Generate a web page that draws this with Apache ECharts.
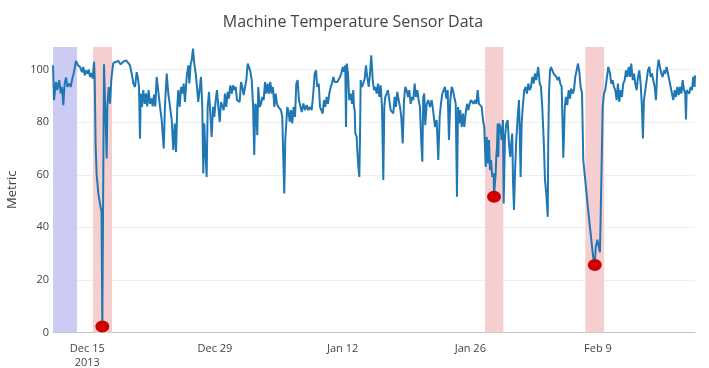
<!DOCTYPE html>
<html>
<head>
<meta charset="utf-8">
<script src="https://cdn.jsdelivr.net/npm/echarts@6/dist/echarts.min.js"></script>
<style>
html,body{margin:0;padding:0;background:#fff;}
#chart{width:709px;height:368px;}
</style>
</head>
<body>
<div id="chart"></div>
<script>
// ---------- DATA ----------
var baseDate = '2013-12-11 00:00';            // reference time for dayOffsets
// time of each reading, in days after baseDate
var dayOffsets = [
0.24,0.35,0.57,0.71,0.93,1.09,1.23,1.37,1.52,1.67,1.81,2.03,2.18,2.32,2.54,2.76,2.98,3.20,3.42,3.56,
3.72,3.86,4.00,4.16,4.30,4.44,4.59,4.74,4.81,4.92,5.03,5.21,5.39,5.56,5.65,5.83,6.13,6.20,6.35,6.49,
6.63,6.79,6.85,7.04,7.40,7.66,7.95,8.25,8.50,8.68,8.87,9.05,9.23,9.42,9.53,9.67,9.78,9.86,10.00,10.14,
10.30,10.44,10.58,10.73,10.88,11.02,11.17,11.32,11.46,11.61,11.79,11.97,12.16,12.38,12.52,12.71,12.88,13.07,13.26,13.43,
13.59,13.73,13.87,13.98,14.13,14.28,14.42,14.57,14.71,14.90,15.08,15.19,15.34,15.45,15.59,15.73,15.89,16.03,16.17,16.36,
16.47,16.61,16.72,16.83,16.94,17.09,17.20,17.35,17.49,17.64,17.79,17.93,18.08,18.22,18.37,18.52,18.66,18.80,18.96,19.10,
19.24,19.40,19.54,19.68,19.84,19.98,20.12,20.27,20.42,20.56,20.71,20.86,21.00,21.15,21.29,21.44,21.59,21.73,21.88,22.03,
22.17,22.31,22.42,22.53,22.64,22.75,22.91,23.05,23.19,23.34,23.49,23.63,23.78,23.93,24.07,24.22,24.36,24.51,24.66,24.80,
24.95,25.10,25.24,25.38,25.49,25.60,25.71,25.82,25.93,26.04,26.20,26.34,26.48,26.63,26.78,26.92,27.07,27.21,27.32,27.51,
27.69,27.87,28.06,28.24,28.42,28.61,28.78,28.94,29.08,29.22,29.38,29.52,29.66,29.81,29.96,30.10,30.25,30.39,30.54,30.69,
30.83,30.98,31.13,31.27,31.41,31.57,31.71,31.85,32.01,32.15,32.29,32.37,32.45,32.59,32.73,32.88,33.03,33.17,33.25,33.32,
33.39,33.54,33.61,33.72,33.83,33.90,33.98,34.12,34.27,34.42,34.56,34.70,34.86,35.00,35.14,35.30,35.44,35.58,35.74,35.88,
36.02,36.17,36.32,36.46,36.57,36.68,36.83,36.97,37.12,37.27,37.41,37.55,37.71,37.85,37.99,38.15,38.29,38.43,38.59,38.73,
38.87,39.02,39.17,39.31,39.46,39.61,39.75,39.90,40.04,40.19,40.34,40.48,40.63,40.74,40.84,40.95,41.06,41.22,41.39,41.58,
41.77,41.94,42.13,42.31,42.49,42.64,42.78,42.93,43.08,43.22,43.37,43.52,43.66,43.81,43.96,44.10,44.24,44.40,44.54,44.65,
44.76,44.90,45.05,45.20,45.34,45.49,45.64,45.78,45.93,46.07,46.22,46.37,46.51,46.66,46.81,46.95,47.09,47.25,47.39,47.53,
47.69,47.80,47.91,47.97,48.05,48.16,48.27,48.41,48.56,48.60,48.67,48.78,48.85,48.93,49.00,49.07,49.14,49.29,49.44,49.58,
49.66,49.80,49.95,50.10,50.24,50.38,50.46,50.60,50.68,50.79,50.90,51.04,51.20,51.34,51.41,51.52,51.63,51.78,51.92,52.07,
52.21,52.36,52.51,52.65,52.80,52.95,53.09,53.23,53.39,53.45,53.61,53.75,53.89,54.05,54.19,54.33,54.49,54.55,54.63,54.74,
54.85,54.99,55.14,55.29,55.43,55.58,55.72,55.87,56.02,56.20,56.36,56.49,56.63,56.79,56.93,57.07,57.23,57.37,57.51,57.66,
57.81,57.95,58.10,58.25,58.39,58.94,59.48,59.65,59.76,59.94,60.08,60.22,60.42,60.52,60.66,60.80,60.95,61.13,61.32,61.46,
61.61,61.75,61.90,62.05,62.19,62.34,62.49,62.63,62.77,62.93,63.07,63.21,63.37,63.51,63.65,63.81,63.95,64.09,64.24,64.39,
64.53,64.68,64.82,64.93,65.04,65.19,65.34,65.48,65.63,65.78,65.92,66.06,66.22,66.36,66.50,66.65,66.80,66.94,67.09,67.24,
67.38,67.53,67.68,67.82,67.97,68.11,68.26,68.41,68.55,68.70,68.85,68.99,69.14,69.29,69.43,69.57,69.65,69.73,69.87,70.01,
70.16,70.31,70.45,70.60,70.64
];
// sensor reading at each time
var metric = [
101.6,88.4,95.3,92.2,96,91,93.4,86.5,94.7,97,93.4,94.7,93.4,96,99,103.3,101.6,101,99,101,
97.8,99.7,98.5,100,97.2,98.7,96.6,103,97.5,70.6,60,53,49,46,2.3,102,66.2,85.8,93.4,87,
96,101,102.5,102.3,103.3,102,103,103.5,102.5,101.6,98.5,94.7,93.4,99,97.2,93.4,73.7,90.9,85.8,92.2,
87,91,86,92.2,87,89,86,90.5,86,97.2,97.2,86,80.8,70,86.5,98.5,91,86,80.8,69.4,
79.5,68.7,86,92.2,85.8,93.4,90.9,94.7,87.7,97.2,101.6,94.7,102.3,103.5,108,102.3,98.5,93.4,87.7,88.4,
97.2,85.8,60.5,79.5,69.4,59.2,85.8,91.5,83.3,74.4,85.8,82,88.4,92.2,85.8,80.1,87.7,88.4,84.6,90.9,
85.8,91.5,89,94,90.9,94,92.2,93.4,88.4,89,87.7,95.3,93.4,90.3,90.9,96,102.3,101,99.2,96,
87,67.5,87,85.8,75,93.4,85.8,87,89.6,88.4,95.3,90.9,94.7,90.9,95.3,90.9,93.4,85.8,90.9,87,
85.8,86.5,84.6,82,66.8,52.9,73.2,73.2,85.8,84.6,80.1,84.6,79.5,85.8,82,94.7,96,88.4,88.4,83.9,
87.1,84.6,86.5,84.6,85.8,84.6,90.9,98.5,99.7,93.4,94.7,85.8,84.6,83.3,88.4,85.8,89.6,87,90.9,93.4,
94.7,97.2,95.3,94.7,95.3,96,97.2,98.5,101,99.2,101.6,78.2,102.3,98.5,88.4,90.9,87,92.2,85.8,84.6,
75.7,74.4,69.4,63,59.2,73.2,96,93.4,94.7,96.6,101.6,97.2,93.4,98.5,105.4,96,92.2,93.4,90.9,94.7,
89.6,94,85.8,58,85.8,89.6,90.9,92.2,88.4,84.6,83.9,83.3,89.6,85.8,91.5,88.4,85.8,82,71.9,88.4,
93.4,92.2,89.6,92.2,87,89.6,88.4,94.7,89.6,92.2,88.4,85.8,71.9,65,89.6,90.9,78.9,87,88.4,85.8,
88.4,83.9,78.2,80.8,65.6,82,87,90.9,92.2,93.4,89,92.2,73.2,88.4,93.4,92.2,89.6,87,51.6,85.8,
79.5,84.6,78.2,83.3,78.2,83.3,87,84.6,87,88.4,88.4,87,88.4,87,92.2,87,86.5,85.8,80.8,78.2,
63,74.4,64.3,68.1,73.2,61.8,65.6,59.2,60.5,51.6,55.4,60.5,66.8,70.6,79.5,66.8,79.5,78.2,73.2,80.8,
49.1,74.4,79.5,80.8,71.9,66.8,70.6,75.7,58,46.6,60.5,73.2,82,88.4,78.2,59.2,79.5,87,92.2,93.4,
90.9,94.7,92.2,93.4,97.2,94.7,98.5,96,99.7,101,94.7,93.4,85.8,73.2,58,52.9,44,73.2,90.9,99.7,
101,99.7,98.5,99.2,97.2,96,97.2,94.7,93.4,66.5,85.8,89.6,86.5,92.2,89,92.8,90.9,92.2,97.2,99.7,
102.3,99.2,93.4,90.9,65.6,46,28.5,25.7,32.7,35.3,32.7,30.5,30.1,86,91,92.2,92.8,101,98.5,94.7,
96,93.4,92.2,88.4,94.7,87.7,92.2,89.6,94.7,96,99.7,97.2,101,97.2,102.3,96,98.5,94.7,92.2,97.2,
99.7,94.7,85.8,73.8,88.4,92.2,96,99.7,101,97.2,98.5,96,93.4,88.4,99.7,103.8,101,98.5,97.2,99.7,
98.5,101,98.5,96,93.4,90.9,88.4,92.2,89.6,93.4,90.3,93.4,90.9,96,92.2,90.9,81,92.2,92.8,90.9,
93.4,92.2,97.2,93.4,97.8
];
// flagged anomalies
var anomalyTimes  = ['2013-12-16 15:36', '2014-01-28 14:24', '2014-02-08 15:36'];
var anomalyValues = [2.3, 51.6, 25.7];
// shaded windows
var blueWindowStart = ['2013-12-11 05:45'];
var blueWindowEnd   = ['2013-12-13 21:00'];
var redWindowStart  = ['2013-12-15 15:00', '2014-01-27 14:40', '2014-02-07 14:40'];
var redWindowEnd    = ['2013-12-17 17:00', '2014-01-29 14:50', '2014-02-09 16:10'];
// x tick labels
var tickDates  = ['2013-12-15', '2013-12-29', '2014-01-12', '2014-01-26', '2014-02-09'];
var tickLabels = ['Dec 15\n2013', 'Dec 29', 'Jan 12', 'Jan 26', 'Feb 9'];
var yMax = 108.6;

// ---------- helpers ----------
function ts(s) {
  var p = s.split(/[- :]/).map(Number);
  return new Date(p[0], p[1] - 1, p[2], p[3] || 0, p[4] || 0).getTime();
}
var DAY = 86400000;
var base = ts(baseDate);
var lineData = dayOffsets.map(function (d, i) { return [base + d * DAY, metric[i]]; });
var anomalyData = anomalyTimes.map(function (t, i) { return [ts(t), anomalyValues[i]]; });
var tickTs = tickDates.map(ts);

var areas = [];
blueWindowStart.forEach(function (s, i) {
  areas.push([{ xAxis: ts(s), itemStyle: { color: '#cbcbf4' } }, { xAxis: ts(blueWindowEnd[i]) }]);
});
redWindowStart.forEach(function (s, i) {
  areas.push([{ xAxis: ts(s), itemStyle: { color: '#f5cfcf' } }, { xAxis: ts(redWindowEnd[i]) }]);
});

var FONT = '"Open Sans", "Noto Sans", sans-serif';
var chart = echarts.init(document.getElementById('chart'), null, { renderer: 'canvas' });
chart.setOption({
  animation: false,
  backgroundColor: '#fff',
  textStyle: { fontFamily: FONT },
  title: {
    text: 'Machine Temperature Sensor Data',
    left: 348,
    textAlign: 'center',
    top: 9,
    textStyle: { fontFamily: FONT, fontSize: 16, fontWeight: 'normal', color: '#444' }
  },
  grid: { left: 53, right: 14, top: 47, bottom: 35.5, containLabel: false, outerBoundsMode: 'none' },
  xAxis: {
    type: 'value',
    min: lineData[0][0],
    max: lineData[lineData.length - 1][0],
    scale: true,
    axisLine: { show: true, lineStyle: { color: '#c4c4c4', width: 1 } },
    axisTick: { show: false },
    splitLine: { show: false },
    axisLabel: {
      customValues: tickTs,
      color: '#444',
      fontSize: 11,
      fontFamily: FONT,
      lineHeight: 14,
      margin: 9,
      formatter: function (v) {
        var i = tickTs.indexOf(v);
        return i >= 0 ? tickLabels[i] : '';
      }
    }
  },
  yAxis: {
    type: 'value',
    min: 0,
    max: yMax,
    interval: 20,
    name: 'Metric',
    nameLocation: 'middle',
    nameGap: 33,
    nameTextStyle: { fontFamily: FONT, fontSize: 13, color: '#444' },
    axisLine: { show: false },
    axisTick: { show: false },
    splitLine: { show: true, showMaxLine: false, lineStyle: { color: '#eeeeee', width: 1 } },
    axisLabel: {
      showMaxLabel: false,
      color: '#444',
      fontSize: 11,
      fontFamily: FONT,
      margin: 4
    }
  },
  series: [
    {
      type: 'line',
      data: [],
      z: 1,
      silent: true,
      markArea: { silent: true, data: areas }
    },
    {
      type: 'line',
      data: lineData,
      z: 3,
      showSymbol: false,
      symbol: 'none',
      lineStyle: { color: '#1f77b4', width: 2 },
      itemStyle: { color: '#1f77b4' }
    },
    {
      type: 'scatter',
      data: anomalyData,
      z: 5,
      symbol: 'circle',
      symbolSize: [14, 12],
      itemStyle: { color: '#cc0000', opacity: 1 }
    }
  ]
});
</script>
</body>
</html>
